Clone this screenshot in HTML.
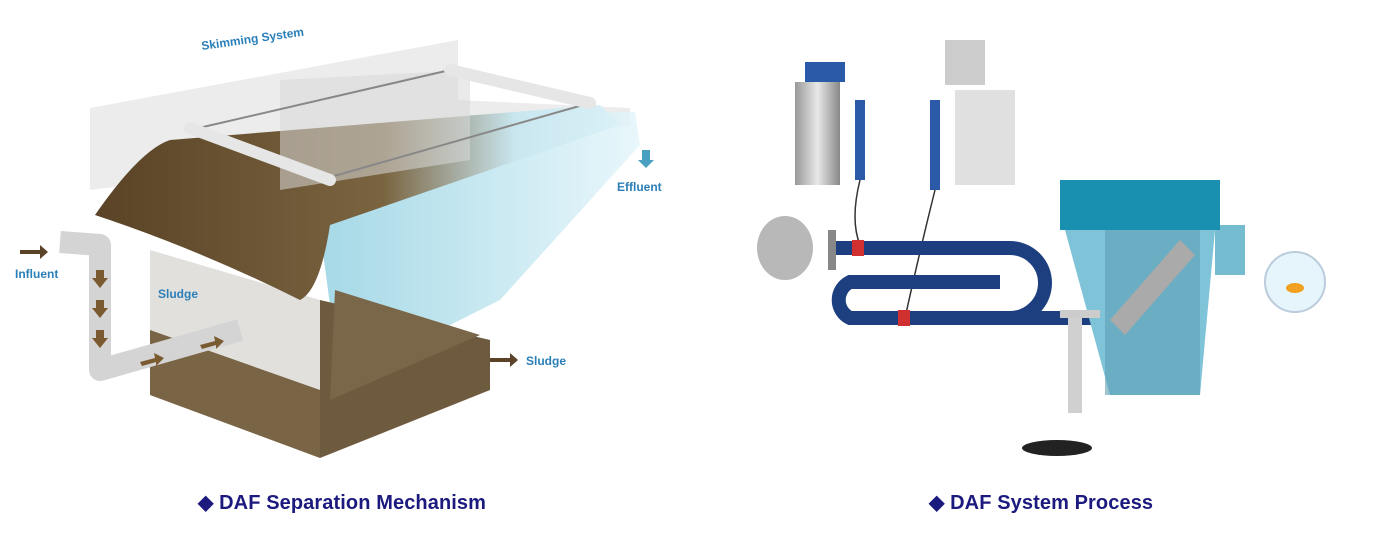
<!DOCTYPE html>
<html><head><meta charset="utf-8"><style>
html,body{margin:0;padding:0;background:#fff;width:1373px;height:538px;overflow:hidden}
.cap{position:absolute;top:490px;font:bold 20px "Liberation Sans",sans-serif;color:#1c1a7e;white-space:nowrap;letter-spacing:0.1px}
</style></head><body>
<svg width="1373" height="538" style="position:absolute;left:0;top:0">
<defs>
<linearGradient id="bw" x1="0" x2="1" y1="0" y2="0">
<stop offset="0" stop-color="#5a4326"/><stop offset="0.55" stop-color="#7a6440"/><stop offset="0.8" stop-color="#c9e6ef"/><stop offset="1" stop-color="#d9f1f7"/></linearGradient>
<linearGradient id="wb" x1="0" x2="1"><stop offset="0" stop-color="#8fcfe0"/><stop offset="1" stop-color="#e3f5fa"/></linearGradient>
<linearGradient id="cyl" x1="0" x2="1"><stop offset="0" stop-color="#999"/><stop offset="0.5" stop-color="#e8e8e8"/><stop offset="1" stop-color="#888"/></linearGradient>
</defs>
<!-- LEFT -->
<polygon points="90,108 458,40 458,100 630,108 630,125 90,190" fill="#ececec"/>
<polygon points="320,230 470,115 635,112 640,145 500,300 430,335 330,305" fill="url(#wb)" opacity="0.8"/>
<polygon points="150,250 320,300 320,458 150,395" fill="#e2e0dd"/>
<polygon points="320,300 490,340 490,390 320,458" fill="#6e5a3e"/>
<polygon points="335,290 480,335 330,400" fill="#7a6648"/>
<polygon points="150,330 320,390 320,458 150,395" fill="#7a6446"/>
<path d="M95,215 Q140,150 170,140 L600,105 L620,125 L330,225 Q320,290 300,300 Q200,250 95,215Z" fill="url(#bw)"/>
<polygon points="280,80 470,70 470,160 280,190" fill="#d8d8d8" opacity="0.55"/>
<line x1="190" y1="130" x2="450" y2="70" stroke="#888" stroke-width="2"/>
<line x1="320" y1="180" x2="590" y2="103" stroke="#888" stroke-width="2"/>
<line x1="190" y1="128" x2="330" y2="180" stroke="#e6e6e6" stroke-width="12" stroke-linecap="round"/>
<line x1="450" y1="70" x2="590" y2="103" stroke="#e6e6e6" stroke-width="12" stroke-linecap="round"/>
<path d="M60,242 L100,245 L100,370 L240,330" fill="none" stroke="#d4d4d4" stroke-width="22" stroke-linejoin="round"/>
<g fill="#7a5a30">
<polygon points="96,270 104,270 104,278 108,278 100,288 92,278 96,278"/>
<polygon points="96,300 104,300 104,308 108,308 100,318 92,308 96,308"/>
<polygon points="96,330 104,330 104,338 108,338 100,348 92,338 96,338"/>
<polygon points="140,362 155,358 154,353 164,358 156,366 156,362 142,366"/>
<polygon points="200,345 215,341 214,336 224,341 216,349 216,345 202,349"/>
</g>
<g font-family="Liberation Sans,sans-serif" font-size="12" font-weight="bold" fill="#2a7fb8">
<text x="202" y="50" transform="rotate(-8 202 50)">Skimming System</text>
<text x="617" y="191">Effluent</text>
<text x="15" y="278">Influent</text>
<text x="158" y="298">Sludge</text>
<text x="526" y="365">Sludge</text>
</g>
<g fill="#5a4326"><polygon points="20,250 40,250 40,245 48,252 40,259 40,254 20,254"/><polygon points="490,358 510,358 510,353 518,360 510,367 510,362 490,362"/></g>
<polygon points="642,150 650,150 650,160 654,160 646,168 638,160 642,160" fill="#4aa0c0"/>
<!-- RIGHT -->
<rect x="795" y="82" width="45" height="103" fill="url(#cyl)"/>
<rect x="805" y="62" width="40" height="20" fill="#2a5aa8"/>
<rect x="955" y="90" width="60" height="95" fill="#e0e0e0"/>
<rect x="945" y="40" width="40" height="45" fill="#ccc"/>
<rect x="855" y="100" width="10" height="80" fill="#2a5aa8"/>
<rect x="930" y="100" width="10" height="90" fill="#2a5aa8"/>
<path d="M860,180 Q850,220 860,245" fill="none" stroke="#333" stroke-width="1.5"/>
<path d="M935,190 Q920,250 905,318" fill="none" stroke="#333" stroke-width="1.5"/>
<ellipse cx="785" cy="248" rx="28" ry="32" fill="#b8b8b8"/>
<rect x="828" y="230" width="8" height="40" fill="#888"/>
<path d="M836,248 L1010,248 A35,35 0 0 1 1010,318 L850,318 A20,20 0 0 1 850,282 L1000,282" fill="none" stroke="#1d3f80" stroke-width="14"/>
<path d="M1000,318 L1110,318" stroke="#1d3f80" stroke-width="14"/>
<rect x="852" y="240" width="12" height="16" fill="#d03030"/>
<rect x="898" y="310" width="12" height="16" fill="#d03030"/>
<rect x="1060" y="180" width="160" height="50" fill="#1a90b0"/>
<polygon points="1065,230 1215,230 1200,395 1110,395" fill="#7fc3d8"/>
<rect x="1105" y="230" width="95" height="165" fill="#5d9fb4" opacity="0.6"/>
<rect x="1060" y="310" width="40" height="8" fill="#ccc"/>
<rect x="1068" y="318" width="14" height="95" fill="#d0d0d0"/>
<polygon points="1110,320 1180,240 1195,255 1125,335" fill="#aaa"/>
<rect x="1215" y="225" width="30" height="50" fill="#1a90b0" opacity="0.6"/>
<ellipse cx="1057" cy="448" rx="35" ry="8" fill="#222"/>
<circle cx="1295" cy="282" r="30" fill="#e6f4fb" stroke="#bcd" stroke-width="2"/>
<ellipse cx="1295" cy="288" rx="9" ry="5" fill="#f2a020"/>
</svg>
<div class="cap" style="left:198px">◆ DAF Separation Mechanism</div>
<div class="cap" style="left:929px">◆ DAF System Process</div>
</body></html>
